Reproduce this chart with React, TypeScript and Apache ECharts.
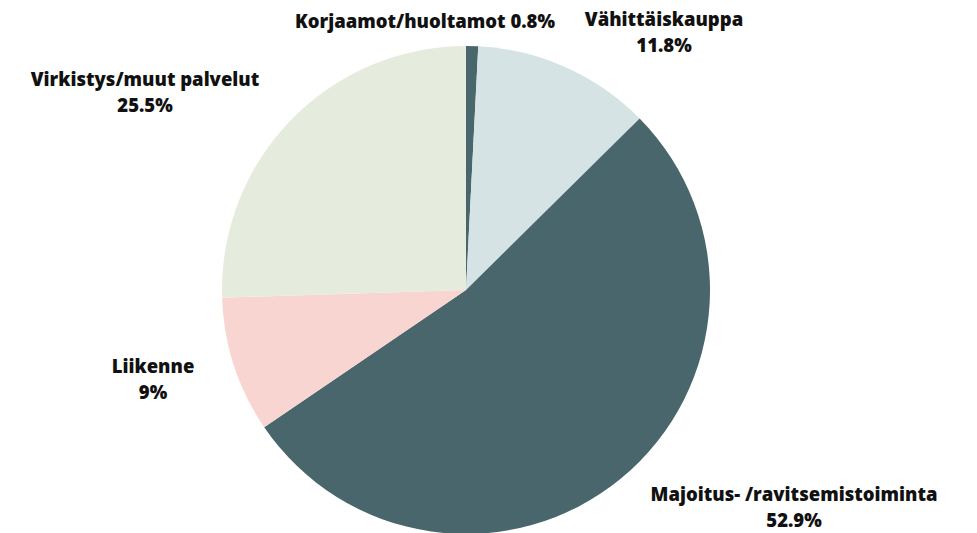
import React, { useEffect, useRef } from "react";
import * as echarts from "echarts";

const categories = [
  "Korjaamot/huoltamot",
  "Vähittäiskauppa",
  "Majoitus- /ravitsemistoiminta",
  "Liikenne",
  "Virkistys/muut palvelut",
];
const values = [0.8, 11.8, 52.9, 9, 25.5];
const valueLabels = ["0.8%", "11.8%", "52.9%", "9%", "25.5%"];
const colors = ["#48666b", "#d5e3e4", "#48666b", "#f8d5d1", "#e5ebdd"];
const labelSeparators = [" ", "\n", "\n", "\n", "\n"];
const labelAnchors = [
  [425, 20],
  [664, 31],
  [794, 506],
  [153, 378],
  [145, 91],
];

export default function App() {
  const ref = useRef<HTMLDivElement>(null);
  useEffect(() => {
    if (!ref.current) return;
    const chart = echarts.init(ref.current, null, { renderer: "svg" });
    chart.setOption({
      animation: false,
      backgroundColor: "#ffffff",
      series: [
        {
          type: "pie",
          center: [466, 290],
          radius: 244,
          startAngle: 90,
          clockwise: true,
          data: categories.map((c, i) => ({
            name: c,
            value: values[i],
            itemStyle: { color: colors[i], borderWidth: 0 },
          })),
          label: {
            show: true,
            formatter: (p: any) =>
              p.name + labelSeparators[p.dataIndex] + valueLabels[p.dataIndex],
            fontFamily: "Open Sans",
            fontWeight: 800,
            fontSize: 18.5,
            lineHeight: 26,
            color: "#111111",
            align: "center",
          },
          labelLine: { show: false },
          labelLayout: (params: any) => ({
            x: labelAnchors[params.dataIndex][0],
            y: labelAnchors[params.dataIndex][1],
            align: "center",
            verticalAlign: "middle",
          }),
        },
      ],
    });
    return () => chart.dispose();
  }, []);
  return (
    <div
      ref={ref}
      style={{ width: 977, height: 533, position: "absolute", left: 0, top: 0 }}
    />
  );
}
